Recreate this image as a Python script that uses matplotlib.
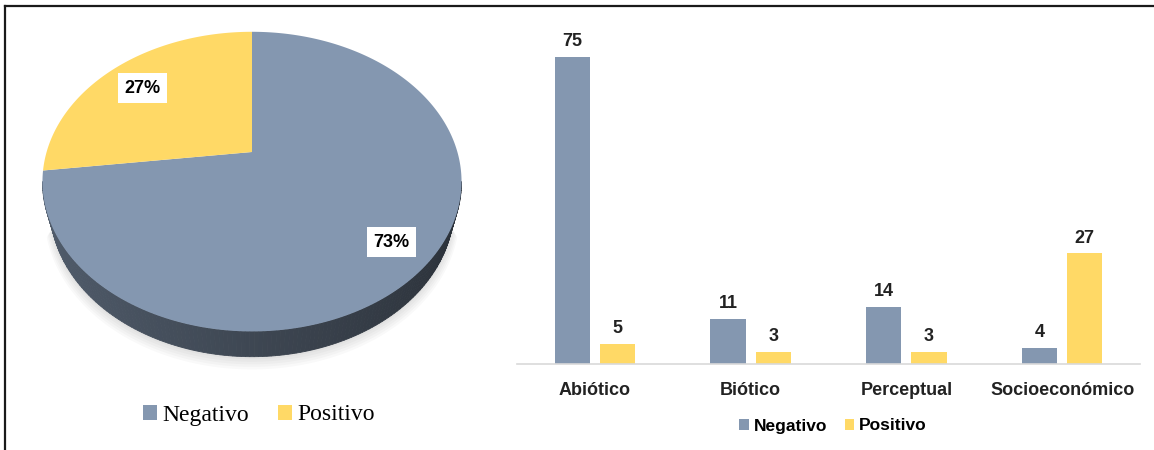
import numpy as np
import matplotlib
matplotlib.use("Agg")
import matplotlib.pyplot as plt
from matplotlib.path import Path
from matplotlib.transforms import Transform
from matplotlib.lines import Line2D
from matplotlib.patches import Patch
from matplotlib.colors import to_rgb

# ---- data ---------------------------------------------------------------
sentido = ["Negativo", "Positivo"]
porcentajes = [73, 27]

categorias = ["Abiótico", "Biótico", "Perceptual", "Socioeconómico"]
negativo = [75, 11, 14, 4]
positivo = [5, 3, 3, 27]

COLOR_NEG = "#8497B0"
COLOR_POS = "#FFD966"
colores = [COLOR_NEG, COLOR_POS]

NARROW = ["Liberation Sans Narrow", "Liberation Sans", "DejaVu Sans"]
SANS = ["Liberation Sans", "DejaVu Sans"]
SERIF = ["Liberation Serif", "DejaVu Serif"]

# ---- 3D pie camera ------------------------------------------------------
ELEV = np.deg2rad(44.5)   # viewing elevation
DIST = 3.61               # camera distance (in pie radii)
DEPTH = 0.19              # thickness of the pie


def project(X, Y, Z=0.0):
    """Perspective projection of a point on the (tilted) pie disk."""
    s, c = np.sin(ELEV), np.cos(ELEV)
    depth = DIST + Y * c - Z * s
    u = DIST * X / depth
    v = DIST * (Y * s + Z * c) / depth
    return u, v


class PieProjection(Transform):
    input_dims = output_dims = 2
    is_separable = False
    has_inverse = False

    def transform_non_affine(self, values):
        values = np.atleast_2d(np.asarray(values, float))
        u, v = project(values[:, 0], values[:, 1])
        return np.column_stack([u, v])

    def transform_path_non_affine(self, path):
        t = np.linspace(0, 1, 40)
        pts = [seg(t) for seg, _ in path.iter_bezier()]
        verts = np.concatenate(pts)
        return Path(self.transform_non_affine(verts), closed=True)


W, H = 1154, 450
fig = plt.figure(figsize=(W / 100, H / 100), dpi=100)

# ---- pie ----------------------------------------------------------------
SCALE = 205.4          # pixels per pie radius
CX, CY = 252, 152      # pixel position of the pie centre
PIE_W = 504
ax_pie = fig.add_axes([0, 0, PIE_W / W, 1])
wedges, _, autotexts = ax_pie.pie(
    porcentajes, colors=colores, startangle=90, counterclock=False,
    autopct="%1.0f%%", pctdistance=0.8,
    textprops=dict(family=NARROW, fontsize=13, fontweight="bold", color="black"),
)
proj = PieProjection()
for w in wedges:
    w.set_transform(proj + ax_pie.transData)
    w.set_linewidth(0)
    w.set_zorder(2)
for t in autotexts:
    x, y = t.get_position()
    u, v = project(x, y)
    t.set_position((u + 2 / SCALE, v - 5 / SCALE))
    t.set_zorder(5)
    t.set_bbox(dict(boxstyle="square,pad=0.34", facecolor="white", edgecolor="none"))

# visible side wall of the pie: between the left and right silhouettes
sil = np.rad2deg(np.arcsin(np.cos(ELEV) / DIST))
for w, col in zip(wedges, colores):
    a0, a1 = max(w.theta1, -180.0 + sil), min(w.theta2, -sil)
    if a1 <= a0:
        continue
    n = max(2, int((a1 - a0) / 1.0))
    th = np.deg2rad(np.linspace(a0, a1, n + 1))
    base = np.array(to_rgb(col))
    for ta, tb in zip(th[:-1], th[1:]):
        tm = 0.5 * (ta + tb)
        f = 0.47 - 0.15 * np.cos(tm)
        shade = np.clip(base * f, 0, 1)
        xs = np.array([np.cos(ta), np.cos(tb), np.cos(tb), np.cos(ta)])
        ys = np.array([np.sin(ta), np.sin(tb), np.sin(tb), np.sin(ta)])
        zs = np.array([0, 0, -DEPTH, -DEPTH])
        u, v = project(xs, ys, zs)
        ax_pie.fill(u, v, color=shade, lw=0.6, zorder=1)

# faint drop shadow under the pie
th = np.deg2rad(np.linspace(-180 + sil + 8, -sil - 8, 200))
for k, a in enumerate(np.linspace(1.0, 1.035, 6)):
    u, v = project(a * np.cos(th), a * np.sin(th), -DEPTH - 0.008 * k)
    uu = np.concatenate([u, u[::-1] * 0.9])
    vv = np.concatenate([v, v[::-1] * 0.6])
    ax_pie.fill(uu, vv, color="#000000", alpha=0.022, lw=0, zorder=0.5)

ax_pie.set_aspect("auto")
ax_pie.set_xlim(-CX / SCALE, (PIE_W - CX) / SCALE)
ax_pie.set_ylim(-(H - CY) / SCALE, CY / SCALE)
ax_pie.axis("off")

pie_handles = [Patch(facecolor=c, edgecolor="none") for c in colores]
fig.legend(
    pie_handles, sentido, loc="center", bbox_to_anchor=(259 / W, 1 - 415 / H),
    ncol=2, frameon=False, handlelength=0.6, handleheight=0.6,
    handletextpad=0.25, columnspacing=1.2,
    prop=dict(family=SERIF, size=17),
)

# ---- grouped bars ---------------------------------------------------------
BASE_Y = 364
PX_PER_UNIT = 4.093
YMAX = 80
ax = fig.add_axes([517 / W, 1 - BASE_Y / H, 623 / W, YMAX * PX_PER_UNIT / H])
x = np.arange(len(categorias))
bw = 0.226
off = 0.145
b_neg = ax.bar(x - off, negativo, bw, color=COLOR_NEG, label="Negativo")
b_pos = ax.bar(x + off, positivo, bw, color=COLOR_POS, label="Positivo")
for bars in (b_neg, b_pos):
    ax.bar_label(bars, padding=5, fontsize=13, fontweight="bold",
                 family=NARROW, color="#222222")

ax.set_xlim(-0.5, 3.5)
ax.set_ylim(0, YMAX)
ax.set_yticks([])
ax.set_xticks(x)
ax.set_xticklabels(categorias, fontsize=13, fontweight="bold", family=SANS,
                   color="#222222")
ax.tick_params(axis="x", length=0, pad=13)
for side in ("top", "right", "left"):
    ax.spines[side].set_visible(False)
ax.spines["bottom"].set_color("#d9d9d9")
ax.spines["bottom"].set_linewidth(1.2)
ax.patch.set_alpha(0)

fig.legend(
    [b_neg, b_pos], sentido, loc="center", bbox_to_anchor=(833 / W, 1 - 426 / H),
    ncol=2, frameon=False, handlelength=0.55, handleheight=0.55,
    handletextpad=0.3, columnspacing=1.0,
    prop=dict(family=SANS, size=12.5, weight="bold"),
)

# ---- frame lines (top and left) -----------------------------------------
fig.add_artist(Line2D([5 / W, 1], [1 - 6 / H, 1 - 6 / H], color="#1a1a1a", lw=1.6))
fig.add_artist(Line2D([5 / W, 5 / W], [0, 1 - 6 / H], color="#1a1a1a", lw=1.6))

fig.savefig("out.png", dpi=100)
